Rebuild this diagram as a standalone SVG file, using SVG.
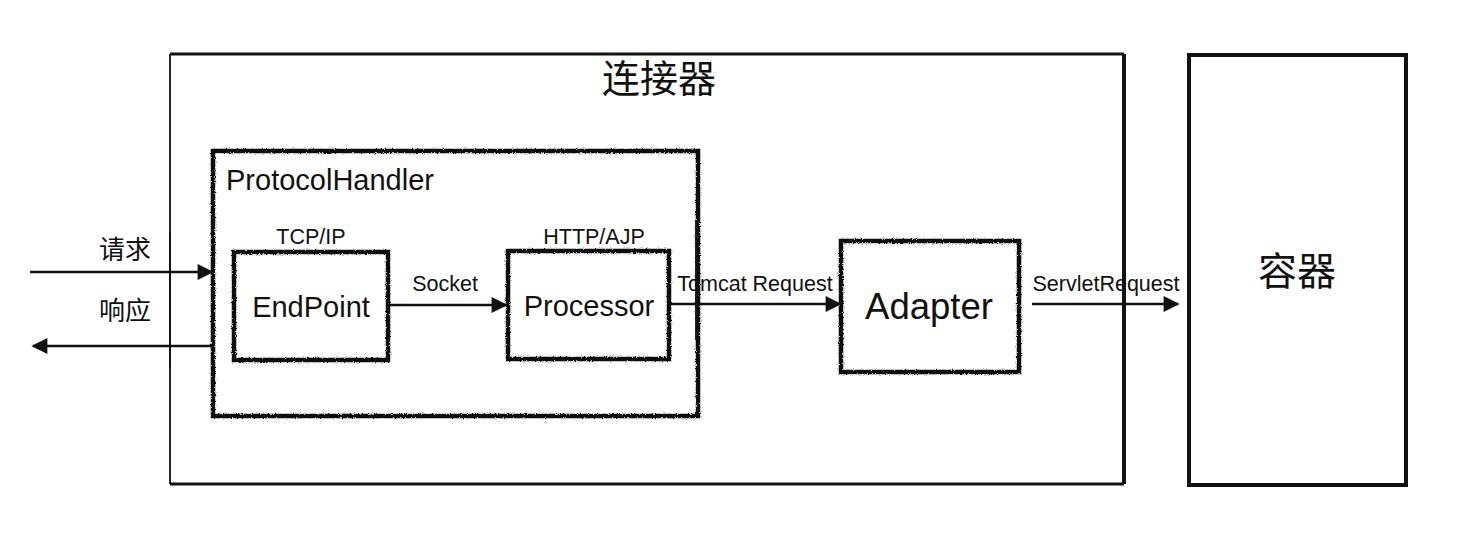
<svg xmlns="http://www.w3.org/2000/svg" width="1468" height="548" viewBox="0 0 1468 548">
<defs>
<filter id="rough" x="-5%" y="-5%" width="110%" height="110%">
<feTurbulence type="fractalNoise" baseFrequency="0.9" numOctaves="2" seed="3" result="n"/>
<feDisplacementMap in="SourceGraphic" in2="n" scale="3" xChannelSelector="R" yChannelSelector="G"/>
</filter>
<marker id="arr" viewBox="0 0 10 10" refX="9" refY="5" markerWidth="17" markerHeight="16" markerUnits="userSpaceOnUse" orient="auto">
<path d="M0,0 L10,5 L0,10 z" fill="#111"/>
</marker>
</defs>
<style>
text{font-family:"Liberation Sans","Noto Sans CJK SC",sans-serif;fill:#111}
.cjk{font-family:"Noto Sans CJK SC","Liberation Sans",sans-serif}
.rough{fill:none;stroke:#111;stroke-width:4.5;filter:url(#rough)}
.conn{stroke:#111;stroke-width:2.5;fill:none;marker-end:url(#arr)}
.mid{text-anchor:middle}
.sm{font-size:21.5px}
.md{font-size:29px}
</style>
<rect width="1468" height="548" fill="#fff"/>
<g id="connector">
<path d="M170,54 L1124,54" stroke="#111" stroke-width="3" fill="none"/>
<path d="M170,54 L170,484" stroke="#111" stroke-width="1.8" fill="none"/>
<path d="M1124,54 L1124,484" stroke="#111" stroke-width="4" fill="none"/>
<path d="M170,484 L1124,484" stroke="#111" stroke-width="3" fill="none"/>
<text x="659" y="92" class="cjk mid" font-size="38">连接器</text>
</g>
<g id="container">
<rect x="1189" y="55" width="217" height="430" fill="#fff" stroke="#111" stroke-width="4"/>
<text x="1297" y="285" class="cjk mid" font-size="39">容器</text>
</g>
<g id="protocolhandler">
<rect x="213" y="151" width="485" height="265" fill="#fff" class="rough"/>
<text x="226" y="190" class="md">ProtocolHandler</text>
</g>
<g id="endpoint">
<rect x="234" y="252" width="154" height="108" class="rough"/>
<text x="311" y="244" class="mid sm">TCP/IP</text>
<text x="311" y="317" class="mid md">EndPoint</text>
</g>
<g id="processor">
<rect x="508" y="251" width="161" height="108" class="rough"/>
<text x="594" y="244" class="mid sm">HTTP/AJP</text>
<text x="589" y="316" class="mid md">Processor</text>
</g>
<g id="adapter">
<rect x="841" y="241" width="178" height="131" class="rough"/>
<text x="929" y="319" class="mid" font-size="36.5">Adapter</text>
</g>
<g id="connectors">
<line x1="170" y1="232" x2="170" y2="368" stroke="#111" stroke-width="1.8"/>
<line x1="696" y1="220" x2="696" y2="340" stroke="#111" stroke-width="1.8"/>
<line x1="1124" y1="270" x2="1124" y2="330" stroke="#111" stroke-width="4"/>
<path d="M30,272 L212,272" class="conn"/>
<path d="M212,346 L33,346" class="conn"/>
<path d="M390,305 L506,305" class="conn"/>
<path d="M671,304 L840,304" class="conn"/>
<path d="M1032,304 L1178,304" class="conn"/>
<text x="125" y="259" class="cjk mid" font-size="26">请求</text>
<text x="125" y="320" class="cjk mid" font-size="26">响应</text>
<text x="445" y="291" class="mid sm">Socket</text>
<text x="755" y="291" class="mid sm">Tomcat Request</text>
<text x="1106" y="291" class="mid sm">ServletRequest</text>
</g>
</svg>
